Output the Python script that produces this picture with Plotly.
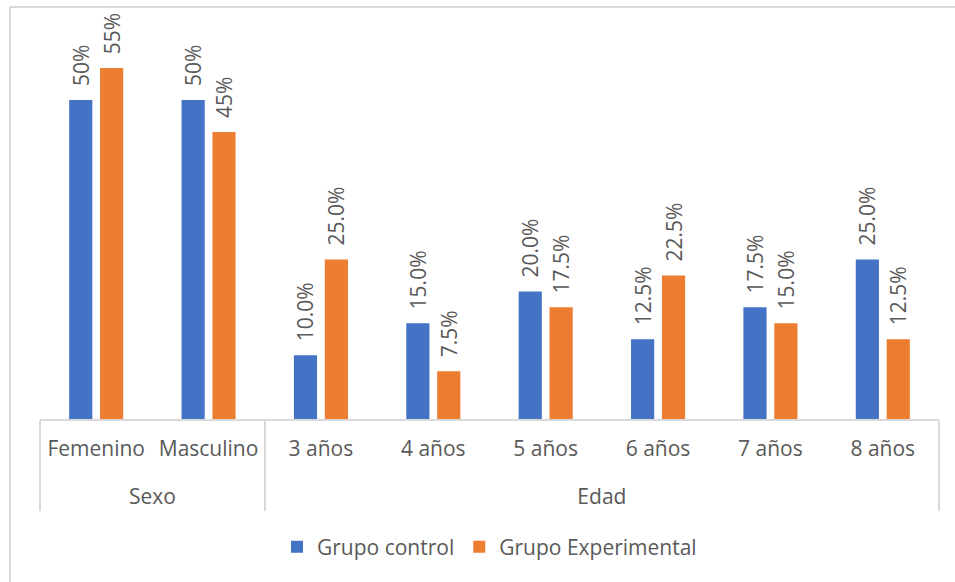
import plotly.graph_objects as go

groups = ["Sexo", "Sexo", "Edad", "Edad", "Edad", "Edad", "Edad", "Edad"]
categories = ["Femenino", "Masculino", "3 años", "4 años", "5 años", "6 años", "7 años", "8 años"]
control = [50, 50, 10.0, 15.0, 20.0, 12.5, 17.5, 25.0]
experimental = [55, 45, 25.0, 7.5, 17.5, 22.5, 15.0, 12.5]
series_names = ["Grupo control", "Grupo Experimental"]
colors = ["#4472C4", "#ED7D31"]

FONT = "Open Sans"
GREY = "#595959"
FS = 21
PAD = "\u00a0\u00a0"

def labels(vals):
    out = []
    for g, v in zip(groups, vals):
        s = f"{v:.0f}%" if g == "Sexo" else f"{v:.1f}%"
        out.append(PAD + s)
    return out

group_labels = ["<br>" + g for g in groups]

fig = go.Figure()
for name, vals, col in zip(series_names, [control, experimental], colors):
    fig.add_trace(go.Bar(
        x=[group_labels, categories], y=vals, name=name,
        marker=dict(color=col, line=dict(width=0)),
        text=labels(vals), textposition="outside", textangle=-90,
        constraintext="none",
        textfont=dict(family=FONT, size=FS, color=GREY),
        cliponaxis=False,
    ))

W, H = 955, 582
ml, mr, mt, mb = 40, 16, 20, 163
pw, ph = W - ml - mr, H - mt - mb

fig.update_layout(
    width=W, height=H,
    margin=dict(l=ml, r=mr, t=mt, b=mb),
    paper_bgcolor="white", plot_bgcolor="white",
    barmode="group", bargap=0.45, bargroupgap=0.25,
    font=dict(family=FONT, size=FS, color=GREY),
    showlegend=True,
    legend=dict(orientation="h", x=0.5, xanchor="center", y=(419 - 547) / ph,
                yanchor="middle", font=dict(family=FONT, size=FS, color=GREY),
                itemwidth=30, traceorder="normal"),
    xaxis=dict(type="multicategory", showline=True, linecolor="#D9D9D9", linewidth=2,
               showdividers=True, dividercolor="#D9D9D9", dividerwidth=2,
               ticks="", ticklabelstandoff=10,
               tickfont=dict(family=FONT, size=FS, color=GREY),
               showgrid=False, zeroline=False),
    yaxis=dict(range=[0, ph / 6.38], visible=False, showgrid=False, zeroline=False),
)

# outer chart border (only top and left edges visible in the frame)
bx = (10 - ml) / pw
by = (419 - 7) / ph
fig.add_shape(type="line", xref="paper", yref="paper", x0=bx, y0=by, x1=1.2, y1=by,
              line=dict(color="#D9D9D9", width=2))
fig.add_shape(type="line", xref="paper", yref="paper", x0=bx, y0=by, x1=bx, y1=-1,
              line=dict(color="#D9D9D9", width=2))

fig.write_html("out.html")
